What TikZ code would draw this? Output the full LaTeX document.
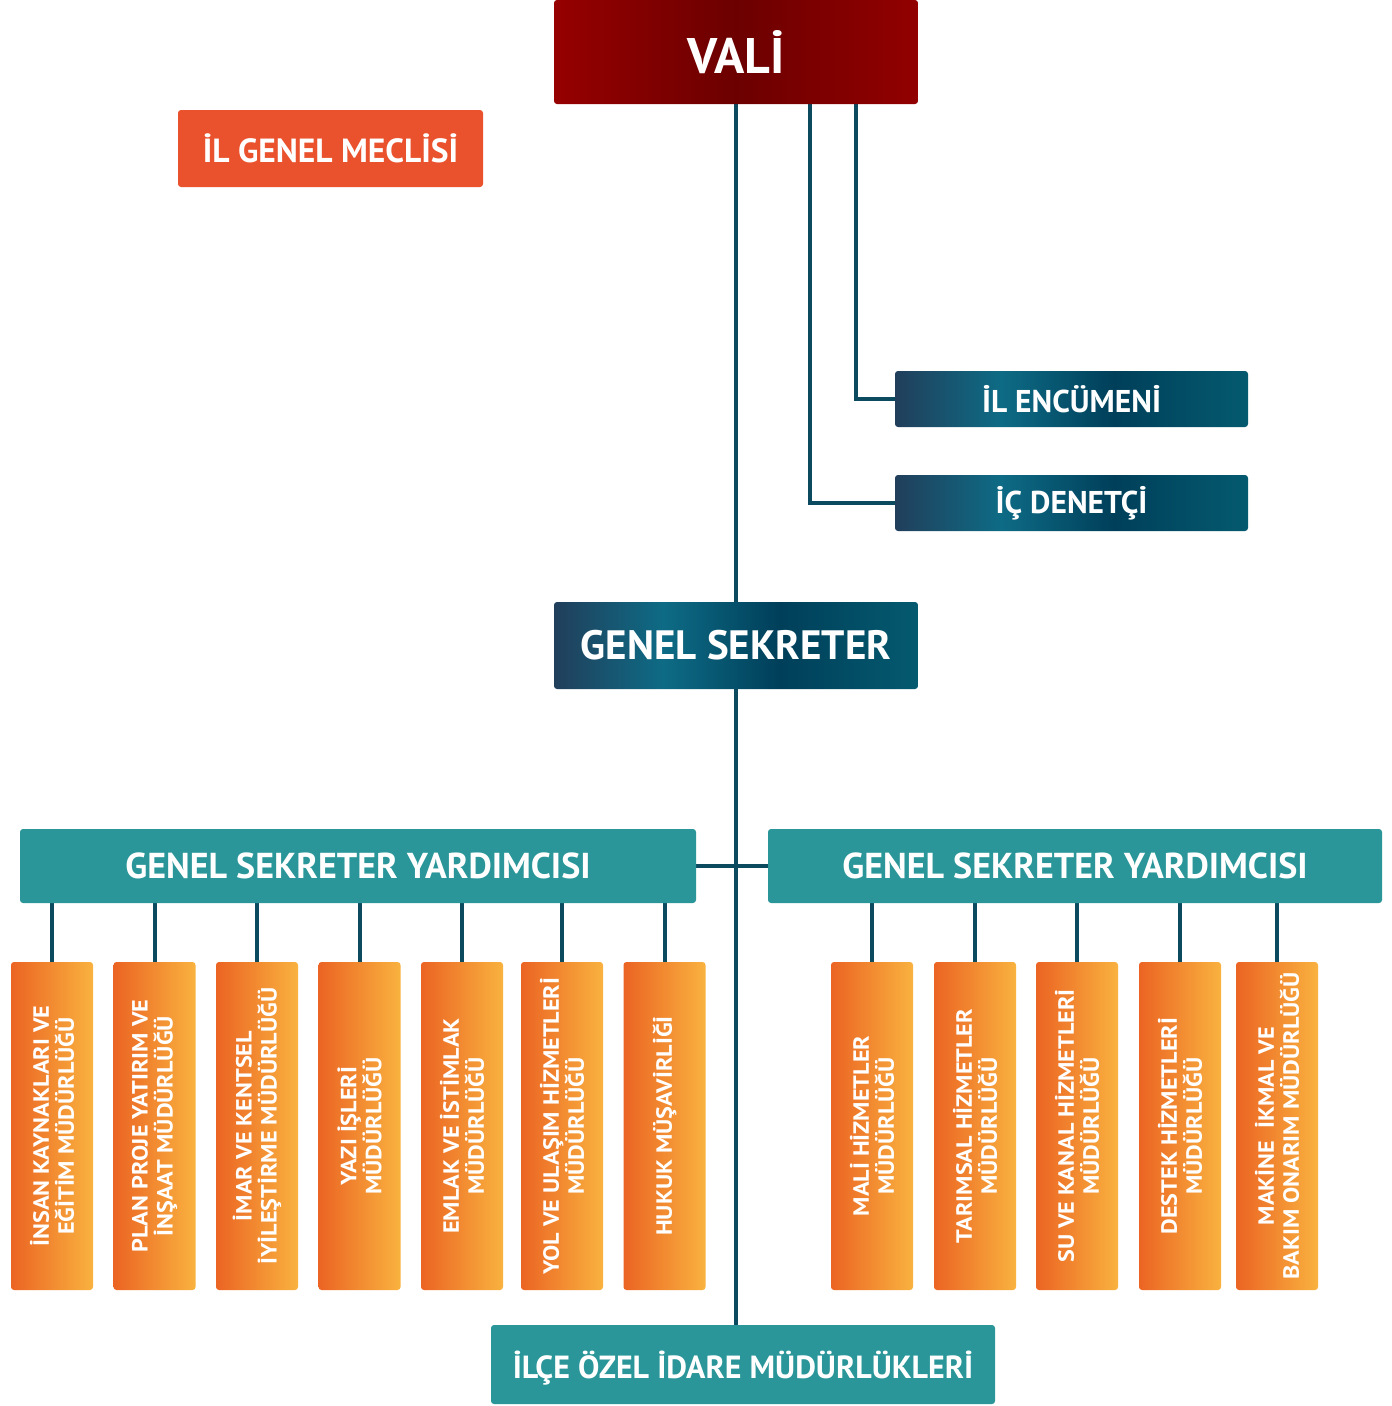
\documentclass[tikz,border=0pt]{standalone}
\usepackage{fontspec}
\setmainfont{PT Sans}
\newfontfamily\orfont[FakeStretch=1.1]{PT Sans}
\usetikzlibrary{backgrounds}
\definecolor{valiL}{HTML}{960000}
\definecolor{valiM}{HTML}{6C0000}
\definecolor{valiR}{HTML}{920000}
\definecolor{tA}{HTML}{213F5B}
\definecolor{tB}{HTML}{0E6B85}
\definecolor{tC}{HTML}{003F5A}
\definecolor{tD}{HTML}{045A6F}
\definecolor{orL}{HTML}{EB6423}
\definecolor{orR}{HTML}{F9B23F}
\definecolor{meclis}{HTML}{E9522D}
\definecolor{teal}{HTML}{2A9699}
\definecolor{linec}{HTML}{0C4A60}
\pgfdeclarehorizontalshading{valishade}{100bp}{color(0bp)=(valiL); color(25bp)=(valiL); color(50bp)=(valiM); color(75bp)=(valiR); color(100bp)=(valiR)}
\pgfdeclarehorizontalshading{tealshade}{100bp}{color(0bp)=(tA); color(25bp)=(tA); color(40bp)=(tB); color(56bp)=(tC); color(75bp)=(tD); color(100bp)=(tD)}
\pgfdeclarehorizontalshading{orshade}{100bp}{color(0bp)=(orL); color(25bp)=(orL); color(75bp)=(orR); color(100bp)=(orR)}
\begin{document}
\begin{tikzpicture}[x=1pt,y=-1pt,
  base/.style={inner sep=0pt, rounded corners=3pt, text=white, font=\bfseries},
  valibox/.style={base, shading=valishade},
  darkbox/.style={base, shading=tealshade},
  tealbox/.style={base, fill=teal},
  redbox/.style={base, fill=meclis},
  orbox/.style={base, shading=orshade, minimum width=82pt, minimum height=328pt},
  ortext/.style={rotate=90, text=white, font=\orfont\bfseries\fontsize{22}{25}\selectfont, align=center, inner sep=0pt},
  conn/.style={draw=linec, line width=4pt}]
\useasboundingbox (0,0) rectangle (1392,1406);

\node[valibox, minimum width=364pt, minimum height=104pt, text depth=0pt, font=\bfseries\fontsize{50}{52}\selectfont] (vali) at (736,52) {VALİ};
\node[redbox, minimum width=305pt, minimum height=77pt, font=\bfseries\fontsize{33.5}{35}\selectfont] (meclis) at (330.5,148.5) {İL GENEL MECLİSİ};
\node[darkbox, minimum width=353pt, minimum height=56pt, font=\bfseries\fontsize{31.5}{33}\selectfont] (enc) at (1071.5,399) {İL ENCÜMENİ};
\node[darkbox, minimum width=353pt, minimum height=56pt, font=\bfseries\fontsize{31.5}{33}\selectfont] (ic) at (1071.5,503) {İÇ DENETÇİ};
\node[darkbox, minimum width=364pt, minimum height=87pt, font=\bfseries\fontsize{41}{43}\selectfont] (gs) at (736,645.5) {GENEL SEKRETER};
\node[tealbox, minimum width=676pt, minimum height=74pt, font=\bfseries\fontsize{36}{38}\selectfont] (gsyL) at (358,866) {GENEL SEKRETER YARDIMCISI};
\node[tealbox, minimum width=614pt, minimum height=74pt, font=\bfseries\fontsize{36}{38}\selectfont] (gsyR) at (1075,866) {GENEL SEKRETER YARDIMCISI};
\node[tealbox, minimum width=504pt, minimum height=79pt, text depth=0pt, font=\bfseries\fontsize{32}{34}\selectfont] (ilce) at (743,1364.5) {İLÇE ÖZEL İDARE MÜDÜRLÜKLERİ};

% orange boxes
\node[orbox] (o1) at (52,1126) {};
\node[orbox] (o2) at (154.5,1126) {};
\node[orbox] (o3) at (257,1126) {};
\node[orbox] (o4) at (359.5,1126) {};
\node[orbox] (o5) at (462,1126) {};
\node[orbox] (o6) at (562,1126) {};
\node[orbox] (o7) at (664.5,1126) {};
\node[orbox] (o8) at (872,1126) {};
\node[orbox] (o9) at (975,1126) {};
\node[orbox] (o10) at (1077,1126) {};
\node[orbox] (o11) at (1180,1126) {};
\node[orbox] (o12) at (1277,1126) {};

\node[ortext] (t1) at (o1.center) {İNSAN KAYNAKLARI VE\\EĞİTİM MÜDÜRLÜĞÜ};
\node[ortext] (t2) at (o2.center) {PLAN PROJE YATIRIM VE\\İNŞAAT MÜDÜRLÜĞÜ};
\node[ortext] (t3) at (o3.center) {İMAR VE KENTSEL\\İYİLEŞTİRME MÜDÜRLÜĞÜ};
\node[ortext] (t4) at (o4.center) {YAZI İŞLERİ\\MÜDÜRLÜĞÜ};
\node[ortext] (t5) at (o5.center) {EMLAK VE İSTİMLAK\\MÜDÜRLÜĞÜ};
\node[ortext] (t6) at (o6.center) {YOL VE ULAŞIM HİZMETLERİ\\MÜDÜRLÜĞÜ};
\node[ortext] (t7) at (o7.center) {HUKUK MÜŞAVİRLİĞİ};
\node[ortext] (t8) at (o8.center) {MALİ HİZMETLER\\MÜDÜRLÜĞÜ};
\node[ortext] (t9) at (o9.center) {TARIMSAL HİZMETLER\\MÜDÜRLÜĞÜ};
\node[ortext] (t10) at (o10.center) {SU VE KANAL HİZMETLERİ\\MÜDÜRLÜĞÜ};
\node[ortext] (t11) at (o11.center) {DESTEK HİZMETLERİ\\MÜDÜRLÜĞÜ};
\node[ortext] (t12) at (o12.center) {MAKİNE\ \ İKMAL VE\\BAKIM ONARIM MÜDÜRLÜĞÜ};

\coordinate (v2) at (810,104);
\coordinate (v3) at (856,104);

\begin{scope}[on background layer]
\draw[conn] (vali.south) -- (vali.south |- ilce.north);
\draw[conn] (v2) |- (ic.west);
\draw[conn] (v3) |- (enc.west);
\draw[conn] (gsyL.east) -- (gsyR.west);
\foreach \o in {o1,o2,o3,o4,o5,o6,o7}
  \draw[conn] (\o.north) -- (\o.north |- gsyL.south);
\foreach \o in {o8,o9,o10,o11,o12}
  \draw[conn] (\o.north) -- (\o.north |- gsyR.south);
\end{scope}
\end{tikzpicture}
\end{document}
